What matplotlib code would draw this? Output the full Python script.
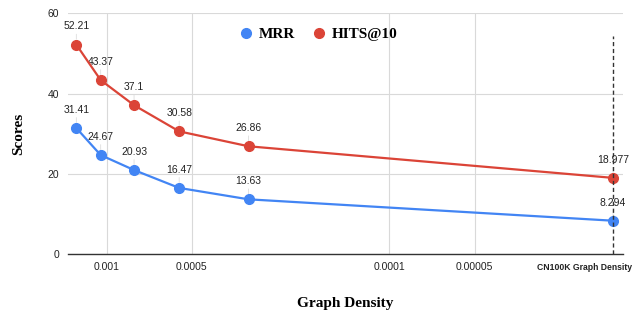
import matplotlib.pyplot as plt
import numpy as np

# Data
density = [0.00128, 0.00105, 0.0008, 0.000554, 0.000315, 0.0000162]
mrr = [31.41, 24.67, 20.93, 16.47, 13.63, 8.294]
hits = [52.21, 43.37, 37.1, 30.58, 26.86, 18.977]
mrr_labels = ['31.41', '24.67', '20.93', '16.47', '13.63', '8.294']
hits_labels = ['52.21', '43.37', '37.1', '30.58', '26.86', '18.977']
tick_vals = [0.001, 0.0005, 0.0001, 0.00005]
tick_labels = ['0.001', '0.0005', '0.0001', '0.00005']

blue = '#4285F4'
red = '#DB4437'

fig = plt.figure(figsize=(6.32, 3.12), dpi=100)
ax = fig.add_axes([0.107, 0.186, 0.878, 0.771])

ax.set_xscale('log')
ax.set_xlim(0.001374, 1.50e-5)
ax.set_ylim(0, 60)

ax.plot(density, mrr, color=blue, lw=1.6, marker='o', markersize=7, label='MRR', zorder=3)
ax.plot(density, hits, color=red, lw=1.6, marker='o', markersize=7, label='HITS@10', zorder=3)

# data labels with faint leader lines
for xs, ys, labs in [(density, mrr, mrr_labels), (density, hits, hits_labels)]:
    for x, y, t in zip(xs, ys, labs):
        ax.annotate(t, xy=(x, y), xytext=(0, 9.5), textcoords='offset points',
                    ha='center', va='bottom', fontsize=7.5, family='Liberation Sans',
                    color='#222222',
                    arrowprops=dict(arrowstyle='-', color='#dddddd', lw=0.6,
                                    shrinkA=0, shrinkB=4), zorder=2)

# dashed marker for CN100K density
ax.plot([density[-1], density[-1]], [0, 54.3], color='#333333', lw=1, ls=(0, (3, 2)), zorder=4)

ax.set_xticks(tick_vals)
ax.set_xticklabels(tick_labels)
ax.minorticks_off()
ax.set_yticks([0, 20, 40, 60])
ax.tick_params(length=0, labelsize=7.5, colors='#222222', pad=6)
for lab in ax.get_xticklabels() + ax.get_yticklabels():
    lab.set_family('Liberation Sans')

ax.text(0.8456, -0.037, 'CN100K Graph Density', transform=ax.transAxes,
        ha='left', va='top', fontsize=6.2, fontweight='bold', family='Liberation Sans',
        color='#222222', clip_on=False)

ax.grid(True, color='#d9d9d9', lw=0.8)
ax.set_axisbelow(True)
for s in ['top', 'right', 'left']:
    ax.spines[s].set_visible(False)
ax.spines['bottom'].set_color('#333333')
ax.spines['bottom'].set_linewidth(1)

ax.set_xlabel('Graph Density', fontsize=11, fontweight='bold', family='Liberation Serif', labelpad=18)
ax.set_ylabel('Scores', fontsize=11, fontweight='bold', family='Liberation Serif', labelpad=16)

ax.legend(loc='upper center', bbox_to_anchor=(0.454, 1.0), ncol=2, frameon=False,
          handlelength=0.6, handletextpad=0.5, columnspacing=1.3,
          prop={'family': 'Liberation Serif', 'weight': 'bold', 'size': 11},
          markerscale=1.0)
leg = ax.get_legend()
for h in leg.legend_handles:
    h.set_linestyle('none')

fig.savefig('out.png', dpi=100)
